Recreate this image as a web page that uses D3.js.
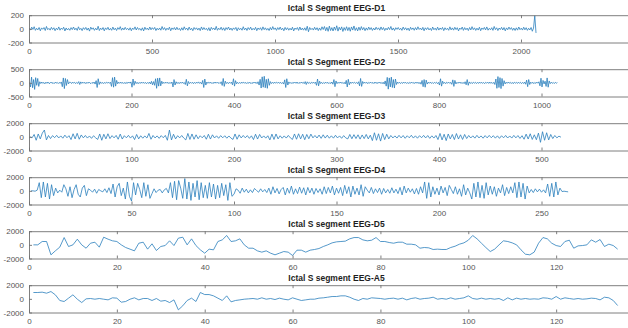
<!DOCTYPE html>
<html>
<head>
<meta charset="utf-8">
<script src="https://cdn.jsdelivr.net/npm/d3@7"></script>
<style>
body { margin: 0; background: #fff; }
svg { display: block; font-family: "Liberation Sans", Arial, sans-serif; }
.axis text { fill: #555; font-size: 8px; }
.axis path, .axis line { stroke: #707070; stroke-width: 0.9; }
.title { font-weight: bold; font-size: 8.5px; fill: #1e1e1e; }
.line { fill: none; stroke: #2a7fbc; stroke-width: 0.8; }
</style>
</head>
<body>
<svg width="628" height="328"></svg>
<script>
var titles = ["Ictal S Segment EEG-D1", "Ictal S Segment EEG-D2", "Ictal S Segment EEG-D3",
              "Ictal S Segment EEG-D4", "Ictal S segment EEG-D5", "Ictal S segment EEG-A5"];

// x axis limits (the right end is cut off by the picture's edge)
var xMax = [2500, 1200, 600, 300, 140, 140];

// visible x tick labels per panel
var xTicks1 = [0, 500, 1000, 1500, 2000],
    xTicks2 = [0, 200, 400, 600, 800, 1000],
    xTicks3 = [0, 100, 200, 300, 400, 500],
    xTicks4 = [0, 50, 100, 150, 200, 250],
    xTicks5 = [0, 20, 40, 60, 80, 100, 120];

// y tick labels per panel
var yTicks1 = [-200, 0, 200],
    yTicks2 = [-500, 0, 500],
    yTicks3 = [-2000, 0, 2000];

// D1: every 5th sample
var d1 = [12,-18,25,-9,31,-22,8,-15,20,-28,14,-6,19,-24,35,-12,7,-19,22,-10,
  16,-27,9,-14,28,-20,11,-8,24,-31,13,-17,6,-21,18,-11,27,-15,10,-23,
  30,-13,8,-26,17,-9,21,-19,12,-33,25,-7,15,-22,9,-16,38,-25,11,-12,
  19,-29,14,-10,23,-18,7,-21,26,-14,10,-24,18,-8,32,-20,13,-15,22,-11,
  8,-19,16,-27,12,-9,29,-17,20,-12,6,-23,15,-30,24,-10,11,-18,27,-14,
  17,-8,21,-25,9,-16,13,-20,34,-11,18,-22,10,-13,25,-28,14,-9,19,-17,
  23,-12,7,-24,16,-19,30,-10,12,-21,26,-15,9,-27,20,-8,15,-18,11,-26,
  28,-14,19,-11,8,-23,17,-30,22,-9,13,-16,36,-21,10,-12,24,-19,15,-25,
  18,-10,27,-17,11,-22,14,-8,21,-29,16,-13,9,-20,31,-15,12,-24,19,-11,
  25,-18,8,-14,22,-27,13,-10,17,-21,29,-12,15,-19,7,-25,20,-16,33,-9,
  14,-22,18,-11,26,-15,10,-28,21,-13,16,-20,9,-17,24,-30,12,-8,19,-23,
  27,-16,11,-19,15,-24,38,-42,20,-12,8,-18,23,-14,17,-26,13,-21,30,-10,
  34,-28,22,-36,40,-25,18,-31,27,-20,45,-33,24,-17,29,-38,19,-22,31,-26,
  21,-35,28,-18,42,-24,16,-30,25,-21,33,-15,20,-27,14,-19,26,-12,18,-23,
  11,-17,24,-9,15,-20,28,-13,19,-25,10,-16,22,-11,35,-18,13,-24,17,-8,
  20,-14,9,-22,26,-12,16,-19,11,-27,23,-10,14,-21,18,-15,30,-9,12,-17,
  22,-28,15,-11,19,-16,8,-24,27,-13,10,-20,25,-18,13,-9,21,-26,16,-12,
  9,-21,29,-15,14,-19,23,-11,17,-30,12,-8,26,-22,18,-14,11,-25,20,-16,
  32,-12,15,-23,10,-18,24,-27,13,-9,21,-16,28,-20,8,-14,17,-22,35,-11,
  16,-25,12,-10,22,-17,19,-29,14,-13,26,-8,18,-21,11,-24,15,-19,27,-12,
  10,-18,24,-14,17,-22,9,-16,20,-35,12,195,-60];

// D2: every 2nd sample
var d2 = [20,-150,210,-180,120,-240,190,-90,160,-130,40,-25,30,-20,15,-35,25,-18,30,-22,
  -15,28,-20,12,-30,22,-10,18,-26,14,-20,33,-140,180,-210,160,-95,120,-40,25,
  18,-24,30,-12,20,-28,15,-22,45,-60,35,-20,26,-14,18,-30,22,-16,28,-10,
  -25,16,-20,30,-45,80,-170,150,-60,35,-22,18,-28,14,-20,25,-12,30,-18,22,
  -130,190,-160,210,-120,90,-35,25,-18,30,-20,14,-26,18,-30,22,-15,28,-12,35,
  -160,140,-90,60,-28,20,-32,16,-22,28,-14,25,-20,18,-30,12,-24,30,-40,55,
  -70,45,-90,150,-200,170,-120,180,-110,60,-30,22,-18,26,-14,20,-28,16,-22,30,
  -150,120,-80,40,-25,18,-30,22,-16,28,-20,14,-60,130,-110,50,-26,20,-18,24,
  -30,16,-22,28,-14,35,-20,18,-45,90,-170,140,-80,30,-18,25,-12,22,-28,16,
  -20,30,-14,24,-18,12,-26,40,-95,160,-130,60,-25,18,-30,22,-16,28,-70,150,
  -120,80,-35,20,-26,16,-22,30,-12,25,-18,14,-28,20,-16,24,-30,12,-20,28,
  -14,22,-30,40,-80,130,-190,220,-160,240,-180,130,-200,150,-90,45,-26,18,-22,30,
  -16,24,-12,28,-20,18,-26,14,-45,110,-170,150,-80,35,-22,16,-28,20,-14,26,
  -18,30,-24,14,-20,26,-12,22,-30,45,-60,38,-20,16,-28,22,-14,30,-18,24,
  -90,140,-110,60,-25,18,-30,14,-22,26,-16,20,-28,12,-24,30,-50,120,-140,70,
  -30,22,-16,28,-12,20,-26,18,-40,90,-150,130,-70,25,-18,30,-14,22,-20,16,
  -28,40,-110,160,-130,50,-20,26,-14,22,-30,18,-12,24,-20,16,-26,30,-18,14,
  -22,28,-16,20,-30,24,-45,70,-120,200,-230,180,-150,210,-170,120,-190,140,-60,30,
  -18,22,-26,14,-20,30,-12,18,-24,16,-28,20,-14,26,-18,12,-22,28,-16,24,
  -30,20,-50,90,-140,120,-160,100,-45,22,-16,28,-20,14,-26,18,-12,24,-30,16,
  -80,150,-120,60,-24,18,-30,22,-14,26,-20,16,-55,110,-130,90,-40,20,-18,28,
  -14,22,-26,18,-30,40,-70,120,-90,35,-20,16,-28,24,-12,20,-26,18,-22,30,
  -16,24,-20,14,-28,18,-12,26,-22,30,-18,16,-24,20,-60,140,-200,230,-170,190,
  -210,160,-120,80,-40,22,-18,28,-14,20,-26,16,-30,24,-12,18,-22,26,-16,20,
  -28,14,-24,30,-50,100,-140,120,-60,25,-18,22,-30,16,-20,26,-14,40,-110,170,
  -150,90,-40,60,-130,180,-160,70,-30,22,-18,14,-26,20,-12,10];

// D3: every 2nd sample
var d3v = [0,-150,350,-500,420,-300,550,1000,-450,200,-250,180,-120,220,-160,140,-200,250,-130,170,
  -400,450,-300,520,-350,280,-150,200,-180,130,-220,160,-140,-380,420,-500,380,-300,450,-250,
  180,-150,210,-350,400,-320,170,-140,220,-180,150,-400,350,-300,160,-200,130,-170,500,-350,
  200,-160,140,-220,180,-130,210,-500,1000,-450,380,-300,170,-150,200,-180,-450,500,-380,420,
  -350,300,-280,160,-140,200,-350,380,-320,300,-170,150,-210,180,-140,160,-200,130,-180,-380,
  420,-350,300,-160,200,-140,180,-220,150,-400,380,-320,350,-170,140,-190,160,-450,400,-380,
  420,-300,160,-200,140,-180,210,-150,-380,420,-350,450,-300,380,-420,350,-280,400,-150,200,
  -170,260,-220,300,-180,240,-200,150,-190,230,-160,140,-210,180,-150,-300,350,-280,320,-250,
  300,-330,280,-260,350,-300,250,-550,600,-500,450,-620,500,-400,380,-300,200,-160,140,-180,
  220,-150,190,-210,160,-140,230,-180,150,-200,170,-130,210,-160,190,-220,150,-180,200,-400,
  500,-450,380,-550,420,-300,350,-400,480,-320,300,-380,350,-250,200,-170,150,-190,220,-160,
  140,-200,180,-150,210,-130,170,-190,150,-220,160,-140,200,-170,130,-180,210,-150,190,-230,
  170,-350,400,-320,450,-380,300,-420,550,-800,750,-500,600,-450,350,-250,200,-150,100,-50];

// D4: every sample
var d4 = [0,0,-50,100,
  1200,-1000,1300,-900,1100,-1200,900,-700,
  400,-300,100,-200,
  900,300,-800,600,-1000,200,900,-500,-900,400,800,-700,
  300,100,-200,250,-350,200,0,-150,300,-250,450,-400,
  1000,-900,600,1100,-700,400,-1200,1300,-800,-1500,1200,-600,
  1100,200,-1000,1200,-800,900,-1100,-400,
  300,-250,100,200,-300,150,350,-300,
  1200,-1000,1400,-1300,1500,400,-1100,1800,-1200,1300,-1400,1100,-900,1500,-1300,1200,-1000,
  800,-1100,1200,-900,1000,-1200,800,-1000,1100,-700,900,-1400,1200,-800,-500,
  300,100,-350,400,-200,250,-300,150,-250,350,50,-200,300,-150,200,
  -250,400,-500,600,-300,350,-450,200,500,-600,400,-350,700,-500,300,-400,550,-350,450,-600,500,-300,400,-500,
  350,-250,300,-500,600,-400,500,-300,700,-600,
  400,-350,500,-700,800,-400,600,-900,700,-500,400,-600,900,-800,600,100,-300,500,-400,300,-250,400,
  -500,350,-300,200,-350,450,-300,250,-400,500,-600,700,-300,400,-200,300,-450,350,-500,600,-300,
  1300,-1100,1200,-900,600,
  -500,400,-600,700,-300,500,-700,800,200,-400,600,-500,300,-800,900,-600,400,-300,
  -1200,1100,-900,1300,-1000,800,-1100,1200,-600,
  700,-500,600,-800,400,-300,900,-700,500,-400,600,-300,
  1200,-1000,1300,-900,1100,-1200,700,
  -300,200,-250,300,-150,250,-200,150,-300,
  1000,-800,1100,-900,1300,-600,400,
  -100,-50,-100,-150];

var d5 = [0,0,490,490,-1460,-880,-340,1070,-240,0,830,0,-490,240,390,-340,1120,830,590,490,
  0,-390,-630,-880,240,390,-630,150,-830,-240,-100,590,-100,980,1120,0,880,-100,-730,-1220,
  -630,-730,490,730,1370,490,590,880,0,-490,-490,-880,-1070,-880,-1220,-1460,-1220,-980,-1070,-1560,
  -780,-780,-1070,-780,-680,-540,-240,0,290,440,490,540,880,1070,1070,730,590,680,1070,490,
  490,340,240,390,390,100,100,0,-490,-390,-440,-680,-630,-680,-680,-390,-200,100,290,680,
  1370,880,240,-390,-980,-630,0,590,490,290,0,-730,-1370,-1460,-1070,240,1070,880,240,-100,
  -240,490,680,-490,-150,-100,0,730,390,780,-240,100,-100,-630];

var a5 = [930,930,980,830,1070,590,-240,-390,100,590,-50,-540,0,50,-50,50,-50,-150,150,100,
  -490,-390,-50,150,-150,50,50,-240,50,-340,-240,-540,-150,-1610,-1020,-240,100,-390,930,630,
  630,440,100,-240,440,-440,-240,-150,-50,0,50,-50,150,-50,50,-100,100,-50,-150,150,
  -50,-240,-150,-50,-50,100,150,240,340,340,440,440,240,-50,-240,50,-50,150,100,50,
  -50,50,100,-50,100,-150,50,150,-50,50,100,240,-50,50,-50,150,-50,50,150,440,
  50,-50,100,-50,50,-50,50,-240,150,-150,100,-50,50,-50,0,-50,150,100,-50,340,
  -50,150,50,-50,50,-50,0,100,50,-150,240,150,-240,-980];

var panels = [
  {data: d1, step: 5, xt: xTicks1, yt: yTicks1},
  {data: d2, step: 2, xt: xTicks2, yt: yTicks2},
  {data: d3v, step: 2, xt: xTicks3, yt: yTicks3},
  {data: d4, step: 1, xt: xTicks4, yt: yTicks3},
  {data: d5, step: 1, xt: xTicks5, yt: yTicks3},
  {data: a5, step: 1, xt: xTicks5, yt: yTicks3}
];

var svg = d3.select("svg"),
    left = 29,
    width = 615,
    height = 27.3,
    gap = 54,
    top0 = 15.2,
    fmt = function(d) { return String(d); };

panels.forEach(function(p, k) {
  var g = svg.append("g")
      .attr("transform", "translate(" + left + "," + (top0 + k * gap) + ")");

  var x = d3.scaleLinear()
      .domain([0, xMax[k]])
      .range([0, width]);

  var y = d3.scaleLinear()
      .domain(d3.extent(p.yt))
      .range([height, 0]);

  var line = d3.line()
      .x(function(d, i) { return x(1 + i * p.step); })
      .y(function(d) { return y(d); });

  g.append("defs").append("clipPath")
      .attr("id", "clip" + k)
    .append("rect")
      .attr("width", width)
      .attr("height", height);

  g.append("g")
      .attr("clip-path", "url(#clip" + k + ")")
    .append("path")
      .datum(p.data)
      .attr("class", "line")
      .attr("d", line);

  g.append("g")
      .attr("class", "axis")
      .attr("transform", "translate(0," + height + ")")
      .call(d3.axisBottom(x).tickValues(p.xt).tickSize(-3).tickSizeOuter(0).tickPadding(6).tickFormat(fmt));

  g.append("g")
      .attr("class", "axis")
      .call(d3.axisTop(x).tickValues(p.xt).tickSize(-3).tickSizeOuter(0).tickFormat(""));

  g.append("g")
      .attr("class", "axis")
      .call(d3.axisLeft(y).tickValues(p.yt).tickSize(-3).tickSizeOuter(0).tickPadding(5).tickFormat(fmt));

  g.append("g")
      .attr("class", "axis")
      .attr("transform", "translate(" + width + ",0)")
      .call(d3.axisRight(y).tickValues(p.yt).tickSize(-3).tickSizeOuter(0).tickFormat(""));

  g.append("text")
      .attr("class", "title")
      .attr("x", width / 2)
      .attr("y", -4.5)
      .attr("text-anchor", "middle")
      .text(titles[k]);
});
</script>
</body>
</html>
